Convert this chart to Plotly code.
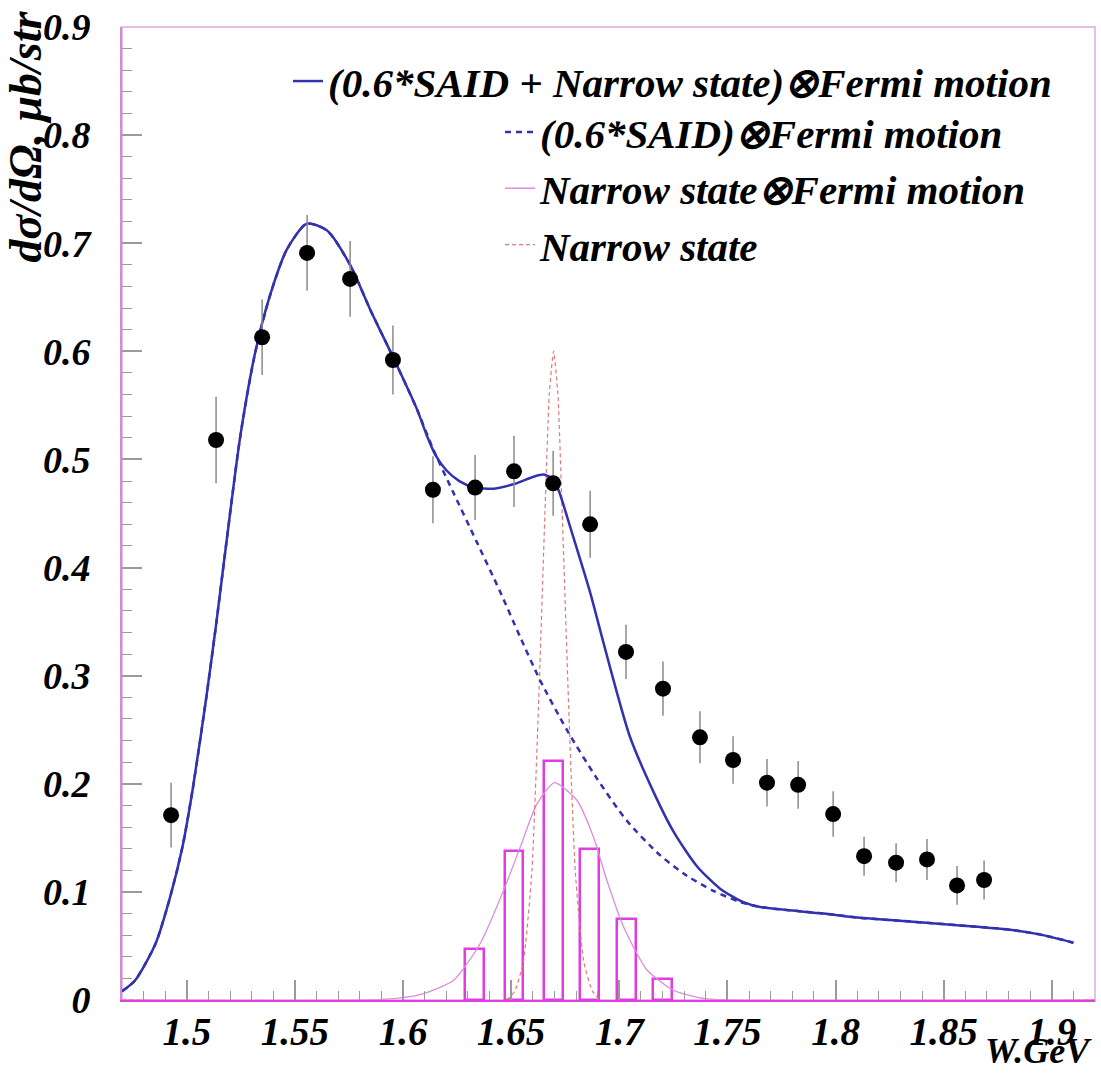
import plotly.graph_objects as go

# ---------------- data ----------------
# measured points
data_x = [1.4927, 1.5135, 1.5348, 1.5556, 1.5755, 1.5953, 1.6138, 1.6333, 1.6513,
          1.6694, 1.6865, 1.7031, 1.7202, 1.7373, 1.7526, 1.7683, 1.7827, 1.7989,
          1.8132, 1.8280, 1.8423, 1.8562, 1.8687]
data_y = [0.171, 0.518, 0.613, 0.691, 0.667, 0.592, 0.472, 0.474, 0.489,
          0.478, 0.440, 0.322, 0.288, 0.243, 0.222, 0.201, 0.199, 0.172,
          0.133, 0.127, 0.130, 0.106, 0.111]
data_err = [0.030, 0.040, 0.035, 0.035, 0.035, 0.032, 0.031, 0.030, 0.033,
            0.030, 0.031, 0.025, 0.025, 0.024, 0.022, 0.022, 0.022, 0.021,
            0.018, 0.018, 0.019, 0.018, 0.018]

# (0.6*SAID + Narrow state) (x) Fermi motion  -- solid blue
full_x = [1.470, 1.476, 1.4855, 1.4925, 1.498, 1.5027, 1.509, 1.5137, 1.5184, 1.5246,
          1.5315, 1.5385, 1.5462, 1.5554, 1.5647, 1.5755, 1.5847, 1.5955, 1.6063,
          1.6110, 1.6150, 1.6200, 1.6260, 1.6330, 1.6420, 1.6509, 1.6603, 1.6650,
          1.6690, 1.6720, 1.6760, 1.6803, 1.6865, 1.6926, 1.6988, 1.7050, 1.7157,
          1.7250, 1.7358, 1.7466, 1.7574, 1.7651, 1.7944, 1.8114, 1.8252, 1.8576,
          1.8807, 1.8960, 1.9100]
full_y = [0.008, 0.018, 0.052, 0.097, 0.142, 0.195, 0.280, 0.350, 0.425, 0.520,
          0.598, 0.652, 0.694, 0.718, 0.712, 0.680, 0.639, 0.594, 0.547,
          0.522, 0.504, 0.490, 0.480, 0.474, 0.473, 0.477, 0.484, 0.486,
          0.482, 0.471, 0.446, 0.418, 0.377, 0.331, 0.285, 0.243, 0.193,
          0.156, 0.124, 0.103, 0.0905, 0.0860, 0.0800, 0.0760, 0.0740, 0.0690,
          0.0650, 0.0600, 0.0530]

# (0.6*SAID) (x) Fermi motion -- dashed blue
said_x = [1.470, 1.476, 1.4855, 1.4925, 1.498, 1.5027, 1.509, 1.5137, 1.5184, 1.5246,
          1.5315, 1.5385, 1.5462, 1.5554, 1.5647, 1.5755, 1.5847, 1.5955, 1.6063,
          1.6138, 1.6231, 1.6340, 1.6448, 1.6541, 1.6633, 1.6757, 1.6896, 1.7034,
          1.7188, 1.7312, 1.7435, 1.7558, 1.7651, 1.7944, 1.8114, 1.8252, 1.8576,
          1.8807, 1.8960, 1.9100]
said_y = [0.008, 0.018, 0.052, 0.097, 0.142, 0.195, 0.280, 0.350, 0.425, 0.520,
          0.598, 0.652, 0.694, 0.718, 0.712, 0.680, 0.639, 0.594, 0.547,
          0.510, 0.470, 0.424, 0.378, 0.336, 0.296, 0.250, 0.205, 0.166,
          0.134, 0.115, 0.101, 0.0907, 0.0860, 0.0800, 0.0760, 0.0740, 0.0690,
          0.0650, 0.0600, 0.0530]

# Narrow state (x) Fermi motion -- thin magenta curve
nsf_x = [1.470, 1.590, 1.6078, 1.6232, 1.6356, 1.6464, 1.6541, 1.6618, 1.6700,
         1.6803, 1.688, 1.6942, 1.7019, 1.7127, 1.725, 1.7373, 1.750, 1.920]
nsf_y = [0.0, 0.0005, 0.005, 0.018, 0.052, 0.101, 0.141, 0.181, 0.201,
         0.185, 0.151, 0.111, 0.068, 0.028, 0.009, 0.002, 0.0, 0.0]

# Narrow state (x) Fermi motion -- histogram
hist_x = [1.6330, 1.6513, 1.6696, 1.6862, 1.7033, 1.7200]
hist_y = [0.047, 0.138, 0.221, 0.140, 0.075, 0.019]

# Narrow state -- thin red dashed
ns_x = [1.470, 1.6476, 1.6516, 1.6556, 1.6596, 1.6626, 1.6656, 1.6676, 1.6696,
        1.6716, 1.6736, 1.6766, 1.6796, 1.6836, 1.6876, 1.6916, 1.920]
ns_y = [0.0, 0.0, 0.008, 0.035, 0.12, 0.27, 0.45, 0.56, 0.60,
        0.56, 0.45, 0.27, 0.12, 0.035, 0.008, 0.0, 0.0]

x_tickvals = [1.5, 1.55, 1.6, 1.65, 1.7, 1.75, 1.8, 1.85, 1.9]
x_ticktext = ["1.5", "1.55", "1.6", "1.65", "1.7", "1.75", "1.8", "1.85", "1.9"]
y_tickvals = [0, 0.1, 0.2, 0.3, 0.4, 0.5, 0.6, 0.7, 0.8, 0.9]
y_ticktext = ["0", "0.1", "0.2", "0.3", "0.4", "0.5", "0.6", "0.7", "0.8", "0.9"]

names = ["(0.6*SAID + Narrow state)\u2297Fermi motion",
         "(0.6*SAID)\u2297Fermi motion",
         "Narrow state\u2297Fermi motion",
         "Narrow state"]

# ---------------- styling ----------------
BLUE = "#3232b0"
MAG = "#e23be2"
SERIF = "Liberation Serif"

fig = go.Figure()

fig.add_trace(go.Bar(
    x=hist_x, y=hist_y, width=0.0086,
    marker=dict(color="rgba(0,0,0,0)", line=dict(color=MAG, width=2.5)),
    showlegend=False, name="histogram"))

fig.add_trace(go.Scatter(
    x=nsf_x, y=nsf_y, mode="lines", line=dict(color="#e08ae0", width=1.3, shape="spline", smoothing=0.6),
    name=names[2], legend="legend2", legendrank=3))

fig.add_trace(go.Scatter(
    x=ns_x, y=ns_y, mode="lines", line=dict(color="#e07a7a", width=1.2, dash="4px,3px", shape="spline", smoothing=0.5),
    name=names[3], legend="legend2", legendrank=4))

fig.add_trace(go.Scatter(
    x=said_x, y=said_y, mode="lines", line=dict(color=BLUE, width=2.5, dash="6px,5px", shape="spline", smoothing=0.7),
    name=names[1], legend="legend2", legendrank=2))

fig.add_trace(go.Scatter(
    x=full_x, y=full_y, mode="lines", line=dict(color=BLUE, width=2.5, shape="spline", smoothing=0.7),
    name=names[0], legend="legend", legendrank=1))

fig.add_trace(go.Scatter(
    x=data_x, y=data_y, mode="markers",
    marker=dict(color="black", size=16),
    error_y=dict(type="data", array=data_err, color="#8a8a8a", thickness=1.5, width=0),
    showlegend=False, name="data"))

xtickfont = dict(family=SERIF, size=39, color="black", weight="bold", style="italic")
ytickfont = dict(family=SERIF, size=38, color="black", weight="bold", style="italic")
legfont = dict(family=SERIF, size=41, color="black", weight="bold", style="italic")

fig.update_layout(
    width=1101, height=1074,
    margin=dict(l=122, r=6, t=25, b=74),
    paper_bgcolor="white", plot_bgcolor="white",
    bargap=0,
    xaxis=dict(range=[1.47, 1.92], tickvals=x_tickvals, ticktext=x_ticktext,
               ticks="inside", ticklen=20, tickwidth=1.5, tickcolor="#9a9a9a",
               minor=dict(dtick=0.01, tick0=1.5, ticks="inside", ticklen=9, tickcolor="#9a9a9a", tickwidth=1.2),
               showgrid=False, zeroline=False, showline=True, linecolor=MAG, linewidth=2,
               tickfont=xtickfont, ticklabelstandoff=-4),
    yaxis=dict(range=[0, 0.9], tickvals=y_tickvals, ticktext=y_ticktext,
               ticks="inside", ticklen=20, tickwidth=1.5, tickcolor="#9a9a9a",
               minor=dict(dtick=0.02, tick0=0, ticks="inside", ticklen=10, tickcolor="#9a9a9a", tickwidth=1.2),
               showgrid=False, zeroline=False, showline=True, linecolor="#cf8fcf", linewidth=2,
               tickfont=ytickfont, ticklabelstandoff=22),
    legend=dict(x=0.1706, y=0.9785, xanchor="left", yanchor="top", bgcolor="rgba(0,0,0,0)",
                font=legfont, traceorder="normal"),
    legend2=dict(x=0.3885, y=0.9262, xanchor="left", yanchor="top", bgcolor="rgba(0,0,0,0)",
                 font=legfont, traceorder="normal"),
    shapes=[dict(type="rect", xref="paper", yref="paper", x0=0, x1=1, y0=0, y1=1,
                 line=dict(color="#e6bfe6", width=2), layer="below")],
    annotations=[
        dict(text="d\u03c3/d\u03a9, \u03bcb/str", textangle=-90, xref="paper", yref="paper",
             x=-0.0987, y=1.019, xanchor="center", yanchor="top", showarrow=False,
             font=dict(family=SERIF, size=46, color="black", weight="bold", style="italic")),
        dict(text="W.GeV", xref="paper", yref="paper", x=0.999, y=-0.0748, xanchor="right", yanchor="bottom",
             showarrow=False,
             font=dict(family=SERIF, size=36, color="black", weight="bold", style="italic")),
    ],
)

fig.write_html("out.html",
               config={"displayModeBar": False},
               post_script="document.body.style.margin='0px';document.body.style.overflow='hidden';")
